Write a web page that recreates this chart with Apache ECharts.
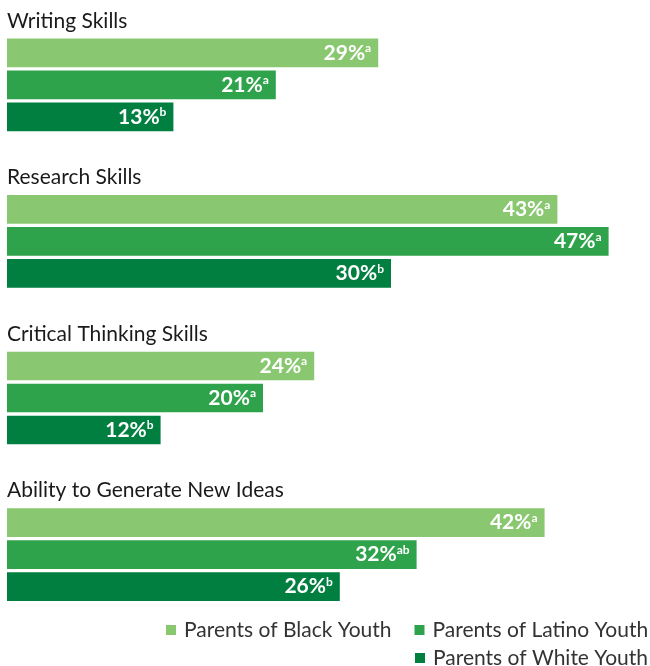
<!DOCTYPE html>
<html>
<head>
<meta charset="utf-8">
<script src="https://cdn.jsdelivr.net/npm/echarts@6/dist/echarts.min.js"></script>
<style>
  html, body { margin: 0; padding: 0; background: #ffffff; }
  #chart { width: 650px; height: 666px; }
</style>
</head>
<body>
<div id="chart"></div>
<script>
// Skill categories, top to bottom
var categories = ['Writing Skills', 'Research Skills', 'Critical Thinking Skills', 'Ability to Generate New Ideas'];

// Percent of parents, by group
var seriesNames = ['Parents of Black Youth', 'Parents of Latino Youth', 'Parents of White Youth'];
var blackValues = [29, 43, 24, 42];
var latinoValues = [21, 47, 20, 32];
var whiteValues = [13, 30, 12, 26];

// Significance letters shown after each value
var blackNotes = ['a', 'a', 'a', 'a'];
var latinoNotes = ['a', 'a', 'a', 'ab'];
var whiteNotes = ['b', 'b', 'b', 'b'];

var colors = ['#89c870', '#2fa34b', '#007f40'];
var FONT = 'Lato, "Open Sans", sans-serif';

function makeSeries(name, values, notes, color) {
  return {
    name: name,
    type: 'bar',
    data: values,
    barWidth: 28.7,
    barGap: '11.5%',
    itemStyle: { color: color },
    label: {
      show: true,
      position: 'insideRight',
      distance: 7,
      formatter: function (p) {
        return '{v|' + p.value + '%}{s|' + notes[p.dataIndex] + '}';
      },
      rich: {
        v: { color: '#ffffff', fontFamily: FONT, fontWeight: 'bold', fontSize: 21, lineHeight: 21 },
        s: { color: '#ffffff', fontFamily: FONT, fontWeight: 'bold', fontSize: 12, lineHeight: 12, verticalAlign: 'top' }
      }
    },
    emphasis: { disabled: true }
  };
}

var legendText = { fontFamily: FONT, fontSize: 21, color: '#333333', padding: [0, 0, 0, 3] };

var chart = echarts.init(document.getElementById('chart'), null, { renderer: 'canvas' });
chart.setOption({
  animation: false,
  backgroundColor: '#ffffff',
  grid: { left: 7, right: 3, top: 6.5, height: 626.4, containLabel: false },
  xAxis: {
    type: 'value', min: 0, max: 50,
    show: false
  },
  yAxis: {
    type: 'category',
    inverse: true,
    data: categories,
    axisLine: { show: false },
    axisTick: { show: false },
    splitLine: { show: false },
    axisLabel: {
      inside: true,
      margin: 0,
      align: 'left',
      verticalAlign: 'bottom',
      padding: [0, 0, 52, 0],
      lineHeight: 24,
      fontFamily: FONT,
      fontSize: 21,
      color: '#1a1a1a'
    }
  },
  legend: [
    {
      data: [seriesNames[0], seriesNames[1]],
      left: 166, top: 619.5,
      padding: 0,
      icon: 'rect', itemWidth: 10, itemHeight: 10, itemGap: 23,
      textStyle: legendText
    },
    {
      data: [seriesNames[2]],
      left: 415, top: 647.5,
      padding: 0,
      icon: 'rect', itemWidth: 10, itemHeight: 10,
      textStyle: legendText
    }
  ],
  series: [
    makeSeries(seriesNames[0], blackValues, blackNotes, colors[0]),
    makeSeries(seriesNames[1], latinoValues, latinoNotes, colors[1]),
    makeSeries(seriesNames[2], whiteValues, whiteNotes, colors[2])
  ]
});
</script>
</body>
</html>
